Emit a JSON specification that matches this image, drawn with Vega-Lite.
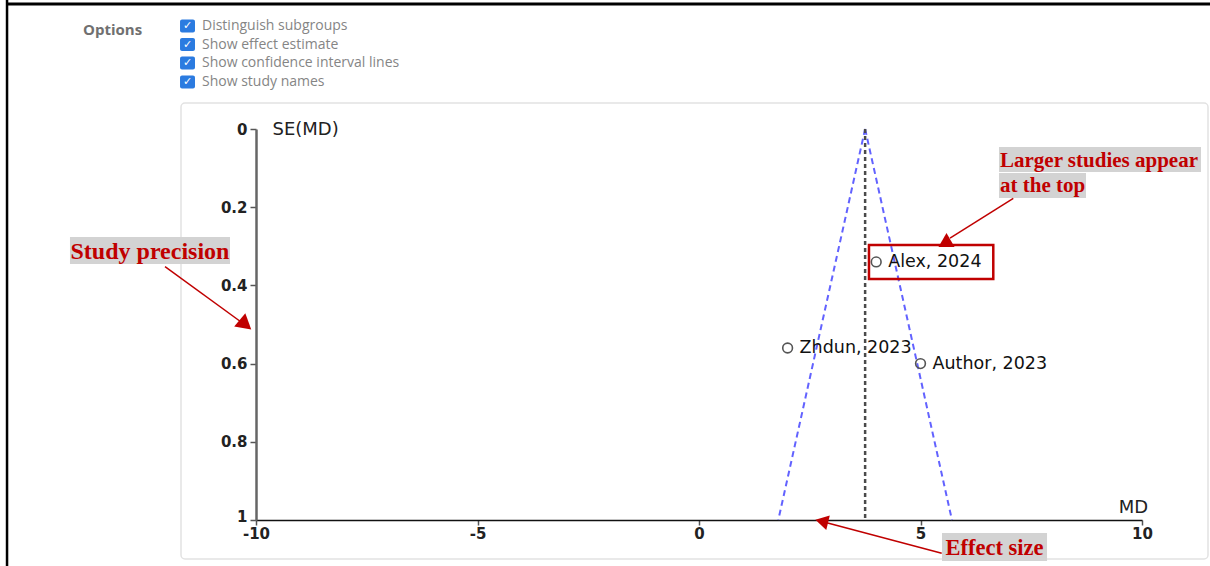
{
  "$schema": "https://vega.github.io/schema/vega-lite/v6.json",
  "autosize": {"type": "none"},
  "width": 886,
  "height": 391,
  "padding": {"left": 256, "top": 129, "right": 68, "bottom": 46},
  "background": "white",
  "view": {"stroke": null},
  "datasets": {
    "studies": [
      {"study": "Alex, 2024", "md": 4.0, "se": 0.34},
      {"study": "Zhdun, 2023", "md": 2.0, "se": 0.56},
      {"study": "Author, 2023", "md": 5.0, "se": 0.60}
    ],
    "funnel": [
      {"side": "left", "md": 3.75, "se": 0},
      {"side": "left", "md": 1.79, "se": 1},
      {"side": "right", "md": 3.75, "se": 0},
      {"side": "right", "md": 5.71, "se": 1}
    ],
    "summary": [{"md": 3.75}],
    "one": [{"k": 1}]
  },
  "config": {
    "axis": {"grid": false, "labelFont": "DejaVu Sans", "labelFontWeight": "bold", "labelFontSize": 15, "labelColor": "#222", "titleFont": "DejaVu Sans", "titleFontWeight": "normal", "titleFontSize": 18, "titleColor": "#222"}
  },
  "layer": [
    {
      "data": {"name": "one"},
      "mark": {"type": "rule", "color": "#000", "strokeWidth": 3},
      "encoding": {"x": {"datum": -15.64, "type": "quantitative"}, "x2": {"datum": 11.6}, "y": {"datum": -0.3197, "type": "quantitative"}}
    },
    {
      "data": {"name": "one"},
      "mark": {"type": "rule", "color": "#000", "strokeWidth": 2.5},
      "encoding": {"x": {"datum": -15.62, "type": "quantitative"}, "y": {"datum": -0.33, "type": "quantitative"}, "y2": {"datum": 1.12}}
    },
    {
      "data": {"name": "one"},
      "mark": {"type": "rect", "fill": null, "stroke": "#e2e2e2", "strokeWidth": 1.5, "cornerRadius": 4},
      "encoding": {"x": {"datum": -11.693, "type": "quantitative"}, "x2": {"datum": 11.49}, "y": {"datum": -0.0665, "type": "quantitative"}, "y2": {"datum": 1.0997}}
    },
    {
      "data": {"name": "one"},
      "mark": {"type": "text", "text": "Options", "font": "Open Sans", "fontWeight": "bold", "fontSize": 15, "color": "#707070", "align": "left", "baseline": "middle"},
      "encoding": {"x": {"datum": -13.905, "type": "quantitative"}, "y": {"datum": -0.2532, "type": "quantitative"}}
    },
    {
      "data": {"name": "one"},
      "mark": {"type": "rect", "fill": "#2b7be0", "cornerRadius": 2},
      "encoding": {"x": {"datum": -11.715, "type": "quantitative"}, "x2": {"datum": -11.377}, "y": {"datum": -0.2800, "type": "quantitative"}, "y2": {"datum": -0.2470}}
    },
    {
      "data": {"name": "one"},
      "mark": {"type": "rect", "fill": "#2b7be0", "cornerRadius": 2},
      "encoding": {"x": {"datum": -11.715, "type": "quantitative"}, "x2": {"datum": -11.377}, "y": {"datum": -0.2327, "type": "quantitative"}, "y2": {"datum": -0.1997}}
    },
    {
      "data": {"name": "one"},
      "mark": {"type": "rect", "fill": "#2b7be0", "cornerRadius": 2},
      "encoding": {"x": {"datum": -11.715, "type": "quantitative"}, "x2": {"datum": -11.377}, "y": {"datum": -0.1854, "type": "quantitative"}, "y2": {"datum": -0.1524}}
    },
    {
      "data": {"name": "one"},
      "mark": {"type": "rect", "fill": "#2b7be0", "cornerRadius": 2},
      "encoding": {"x": {"datum": -11.715, "type": "quantitative"}, "x2": {"datum": -11.377}, "y": {"datum": -0.1368, "type": "quantitative"}, "y2": {"datum": -0.1038}}
    },
    {
      "data": {"name": "one"},
      "mark": {"type": "text", "text": "✓", "font": "DejaVu Sans", "fontWeight": "bold", "fontSize": 11, "color": "white", "align": "center", "baseline": "middle"},
      "encoding": {"x": {"datum": -11.546, "type": "quantitative"}, "y": {"datum": -0.2634, "type": "quantitative"}}
    },
    {
      "data": {"name": "one"},
      "mark": {"type": "text", "text": "✓", "font": "DejaVu Sans", "fontWeight": "bold", "fontSize": 11, "color": "white", "align": "center", "baseline": "middle"},
      "encoding": {"x": {"datum": -11.546, "type": "quantitative"}, "y": {"datum": -0.2161, "type": "quantitative"}}
    },
    {
      "data": {"name": "one"},
      "mark": {"type": "text", "text": "✓", "font": "DejaVu Sans", "fontWeight": "bold", "fontSize": 11, "color": "white", "align": "center", "baseline": "middle"},
      "encoding": {"x": {"datum": -11.546, "type": "quantitative"}, "y": {"datum": -0.1688, "type": "quantitative"}}
    },
    {
      "data": {"name": "one"},
      "mark": {"type": "text", "text": "✓", "font": "DejaVu Sans", "fontWeight": "bold", "fontSize": 11, "color": "white", "align": "center", "baseline": "middle"},
      "encoding": {"x": {"datum": -11.546, "type": "quantitative"}, "y": {"datum": -0.1202, "type": "quantitative"}}
    },
    {
      "data": {"name": "one"},
      "mark": {"type": "text", "text": "Distinguish subgroups", "font": "Open Sans", "fontSize": 14, "color": "#858585", "align": "left", "baseline": "middle"},
      "encoding": {"x": {"datum": -11.219, "type": "quantitative"}, "y": {"datum": -0.2634, "type": "quantitative"}}
    },
    {
      "data": {"name": "one"},
      "mark": {"type": "text", "text": "Show effect estimate", "font": "Open Sans", "fontSize": 14, "color": "#858585", "align": "left", "baseline": "middle"},
      "encoding": {"x": {"datum": -11.219, "type": "quantitative"}, "y": {"datum": -0.2161, "type": "quantitative"}}
    },
    {
      "data": {"name": "one"},
      "mark": {"type": "text", "text": "Show confidence interval lines", "font": "Open Sans", "fontSize": 14, "color": "#858585", "align": "left", "baseline": "middle"},
      "encoding": {"x": {"datum": -11.219, "type": "quantitative"}, "y": {"datum": -0.1688, "type": "quantitative"}}
    },
    {
      "data": {"name": "one"},
      "mark": {"type": "text", "text": "Show study names", "font": "Open Sans", "fontSize": 14, "color": "#858585", "align": "left", "baseline": "middle"},
      "encoding": {"x": {"datum": -11.219, "type": "quantitative"}, "y": {"datum": -0.1202, "type": "quantitative"}}
    },
    {
      "data": {"name": "funnel"},
      "mark": {"type": "line", "color": "#6262ff", "strokeWidth": 2, "strokeDash": [6, 4]},
      "encoding": {
        "x": {"field": "md", "type": "quantitative"},
        "y": {"field": "se", "type": "quantitative"},
        "detail": {"field": "side"},
        "order": {"field": "se"}
      }
    },
    {
      "data": {"name": "summary"},
      "mark": {"type": "rule", "color": "#4a4a4a", "strokeWidth": 2.5, "strokeDash": [4, 3]},
      "encoding": {
        "x": {"field": "md", "type": "quantitative"},
        "y": {"datum": 0, "type": "quantitative"},
        "y2": {"datum": 1}
      }
    },
    {
      "data": {"name": "studies"},
      "mark": {"type": "point", "shape": "circle", "filled": false, "color": "#555", "strokeWidth": 1.6, "size": 95, "opacity": 1, "clip": false},
      "encoding": {
        "x": {"field": "md", "type": "quantitative", "scale": {"domain": [-10, 10], "nice": false, "zero": false},
          "axis": {"values": [-10, -5, 0, 5, 10], "labelExpr": "replace(format(datum.value, 'd'), '\u2212', '-')", "labelFlush": false, "title": "MD", "domainColor": "#111", "domainWidth": 1.5, "tickColor": "#555", "tickWidth": 1.5, "tickSize": 5, "labelPadding": 1,
            "titleAnchor": null, "titleAlign": "center", "titleBaseline": "middle", "titleX": 877, "titleY": -13}},
        "y": {"field": "se", "type": "quantitative", "scale": {"domain": [0, 1], "reverse": true, "nice": false, "zero": false},
          "axis": {"values": [0, 0.2, 0.4, 0.6, 0.8, 1], "format": ".1~f", "labelFlush": false, "labelOffset": {"condition": {"test": "datum.value === 1", "value": -4}, "value": 0}, "title": "SE(MD)", "domainColor": "#666", "domainWidth": 2.5, "tickColor": "#555", "tickWidth": 1.5, "tickSize": 6, "labelPadding": 3,
            "titleAngle": 0, "titleAlign": "left", "titleBaseline": "middle", "titleX": 16, "titleY": 0}}
      }
    },
    {
      "data": {"name": "studies"},
      "mark": {"type": "text", "align": "left", "baseline": "middle", "dx": 12, "font": "DejaVu Sans", "fontSize": 17.5, "color": "#111"},
      "encoding": {
        "x": {"field": "md", "type": "quantitative"},
        "y": {"field": "se", "type": "quantitative"},
        "text": {"field": "study"}
      }
    },
    {
      "data": {"name": "one"},
      "mark": {"type": "rect", "fill": null, "stroke": "#c00000", "strokeWidth": 2.5},
      "encoding": {"x": {"datum": 3.837, "type": "quantitative"}, "x2": {"datum": 6.643}, "y": {"datum": 0.2967, "type": "quantitative"}, "y2": {"datum": 0.3836}}
    },
    {
      "data": {"name": "one"},
      "mark": {"type": "rect", "fill": "#d3d3d3"},
      "encoding": {"x": {"datum": -14.199, "type": "quantitative"}, "x2": {"datum": -10.587}, "y": {"datum": 0.2762, "type": "quantitative"}, "y2": {"datum": 0.3453}}
    },
    {
      "data": {"name": "one"},
      "mark": {"type": "text", "text": "Study precision", "font": "Liberation Serif", "fontWeight": "bold", "fontSize": 24, "color": "#c00000", "align": "center", "baseline": "middle", "dy": 1},
      "encoding": {"x": {"datum": -12.393, "type": "quantitative"}, "y": {"datum": 0.312, "type": "quantitative"}}
    },
    {
      "data": {"name": "one"},
      "mark": {"type": "rule", "color": "#c00000", "strokeWidth": 1.5},
      "encoding": {"x": {"datum": -12.054, "type": "quantitative"}, "x2": {"datum": -10.181}, "y": {"datum": 0.3522, "type": "quantitative"}, "y2": {"datum": 0.5064}}
    },
    {
      "data": {"name": "one"},
      "mark": {"type": "point", "shape": "triangle-up", "filled": true, "color": "#c00000", "opacity": 1, "size": 300, "angle": 130},
      "encoding": {"x": {"datum": -10.237, "type": "quantitative"}, "y": {"datum": 0.5005, "type": "quantitative"}}
    },
    {
      "data": {"name": "one"},
      "mark": {"type": "rect", "fill": "#d3d3d3"},
      "encoding": {"x": {"datum": 6.772, "type": "quantitative"}, "x2": {"datum": 11.332}, "y": {"datum": 0.046, "type": "quantitative"}, "y2": {"datum": 0.110}}
    },
    {
      "data": {"name": "one"},
      "mark": {"type": "rect", "fill": "#d3d3d3"},
      "encoding": {"x": {"datum": 6.772, "type": "quantitative"}, "x2": {"datum": 8.736}, "y": {"datum": 0.1125, "type": "quantitative"}, "y2": {"datum": 0.1765}}
    },
    {
      "data": {"name": "one"},
      "mark": {"type": "text", "text": "Larger studies appear", "font": "Liberation Serif", "fontWeight": "bold", "fontSize": 21, "color": "#c00000", "align": "left", "baseline": "middle", "dy": 1},
      "encoding": {"x": {"datum": 6.795, "type": "quantitative"}, "y": {"datum": 0.0793, "type": "quantitative"}}
    },
    {
      "data": {"name": "one"},
      "mark": {"type": "text", "text": "at the top", "font": "Liberation Serif", "fontWeight": "bold", "fontSize": 21, "color": "#c00000", "align": "left", "baseline": "middle", "dy": 1},
      "encoding": {"x": {"datum": 6.795, "type": "quantitative"}, "y": {"datum": 0.1432, "type": "quantitative"}}
    },
    {
      "data": {"name": "one"},
      "mark": {"type": "rule", "color": "#c00000", "strokeWidth": 1.5},
      "encoding": {"x": {"datum": 7.095, "type": "quantitative"}, "x2": {"datum": 5.666}, "y": {"datum": 0.1772, "type": "quantitative"}, "y2": {"datum": 0.2788}}
    },
    {
      "data": {"name": "one"},
      "mark": {"type": "point", "shape": "triangle-up", "filled": true, "color": "#c00000", "opacity": 1, "size": 260, "angle": 0},
      "encoding": {"x": {"datum": 5.587, "type": "quantitative"}, "y": {"datum": 0.2839, "type": "quantitative"}}
    },
    {
      "data": {"name": "one"},
      "mark": {"type": "rect", "fill": "#d3d3d3"},
      "encoding": {"x": {"datum": 5.485, "type": "quantitative"}, "x2": {"datum": 7.856}, "y": {"datum": 1.0332, "type": "quantitative"}, "y2": {"datum": 1.1049}}
    },
    {
      "data": {"name": "one"},
      "mark": {"type": "text", "text": "Effect size", "font": "Liberation Serif", "fontWeight": "bold", "fontSize": 22.5, "color": "#c00000", "align": "center", "baseline": "middle", "dy": 1},
      "encoding": {"x": {"datum": 6.67, "type": "quantitative"}, "y": {"datum": 1.0691, "type": "quantitative"}}
    },
    {
      "data": {"name": "one"},
      "mark": {"type": "rule", "color": "#c00000", "strokeWidth": 1.5},
      "encoding": {"x": {"datum": 5.479, "type": "quantitative"}, "x2": {"datum": 2.777}, "y": {"datum": 1.0852, "type": "quantitative"}, "y2": {"datum": 1.0038}}
    },
    {
      "data": {"name": "one"},
      "mark": {"type": "point", "shape": "triangle-up", "filled": true, "color": "#c00000", "opacity": 1, "size": 225, "angle": 283.5},
      "encoding": {"x": {"datum": 2.77, "type": "quantitative"}, "y": {"datum": 1.0033, "type": "quantitative"}}
    }
  ]
}
